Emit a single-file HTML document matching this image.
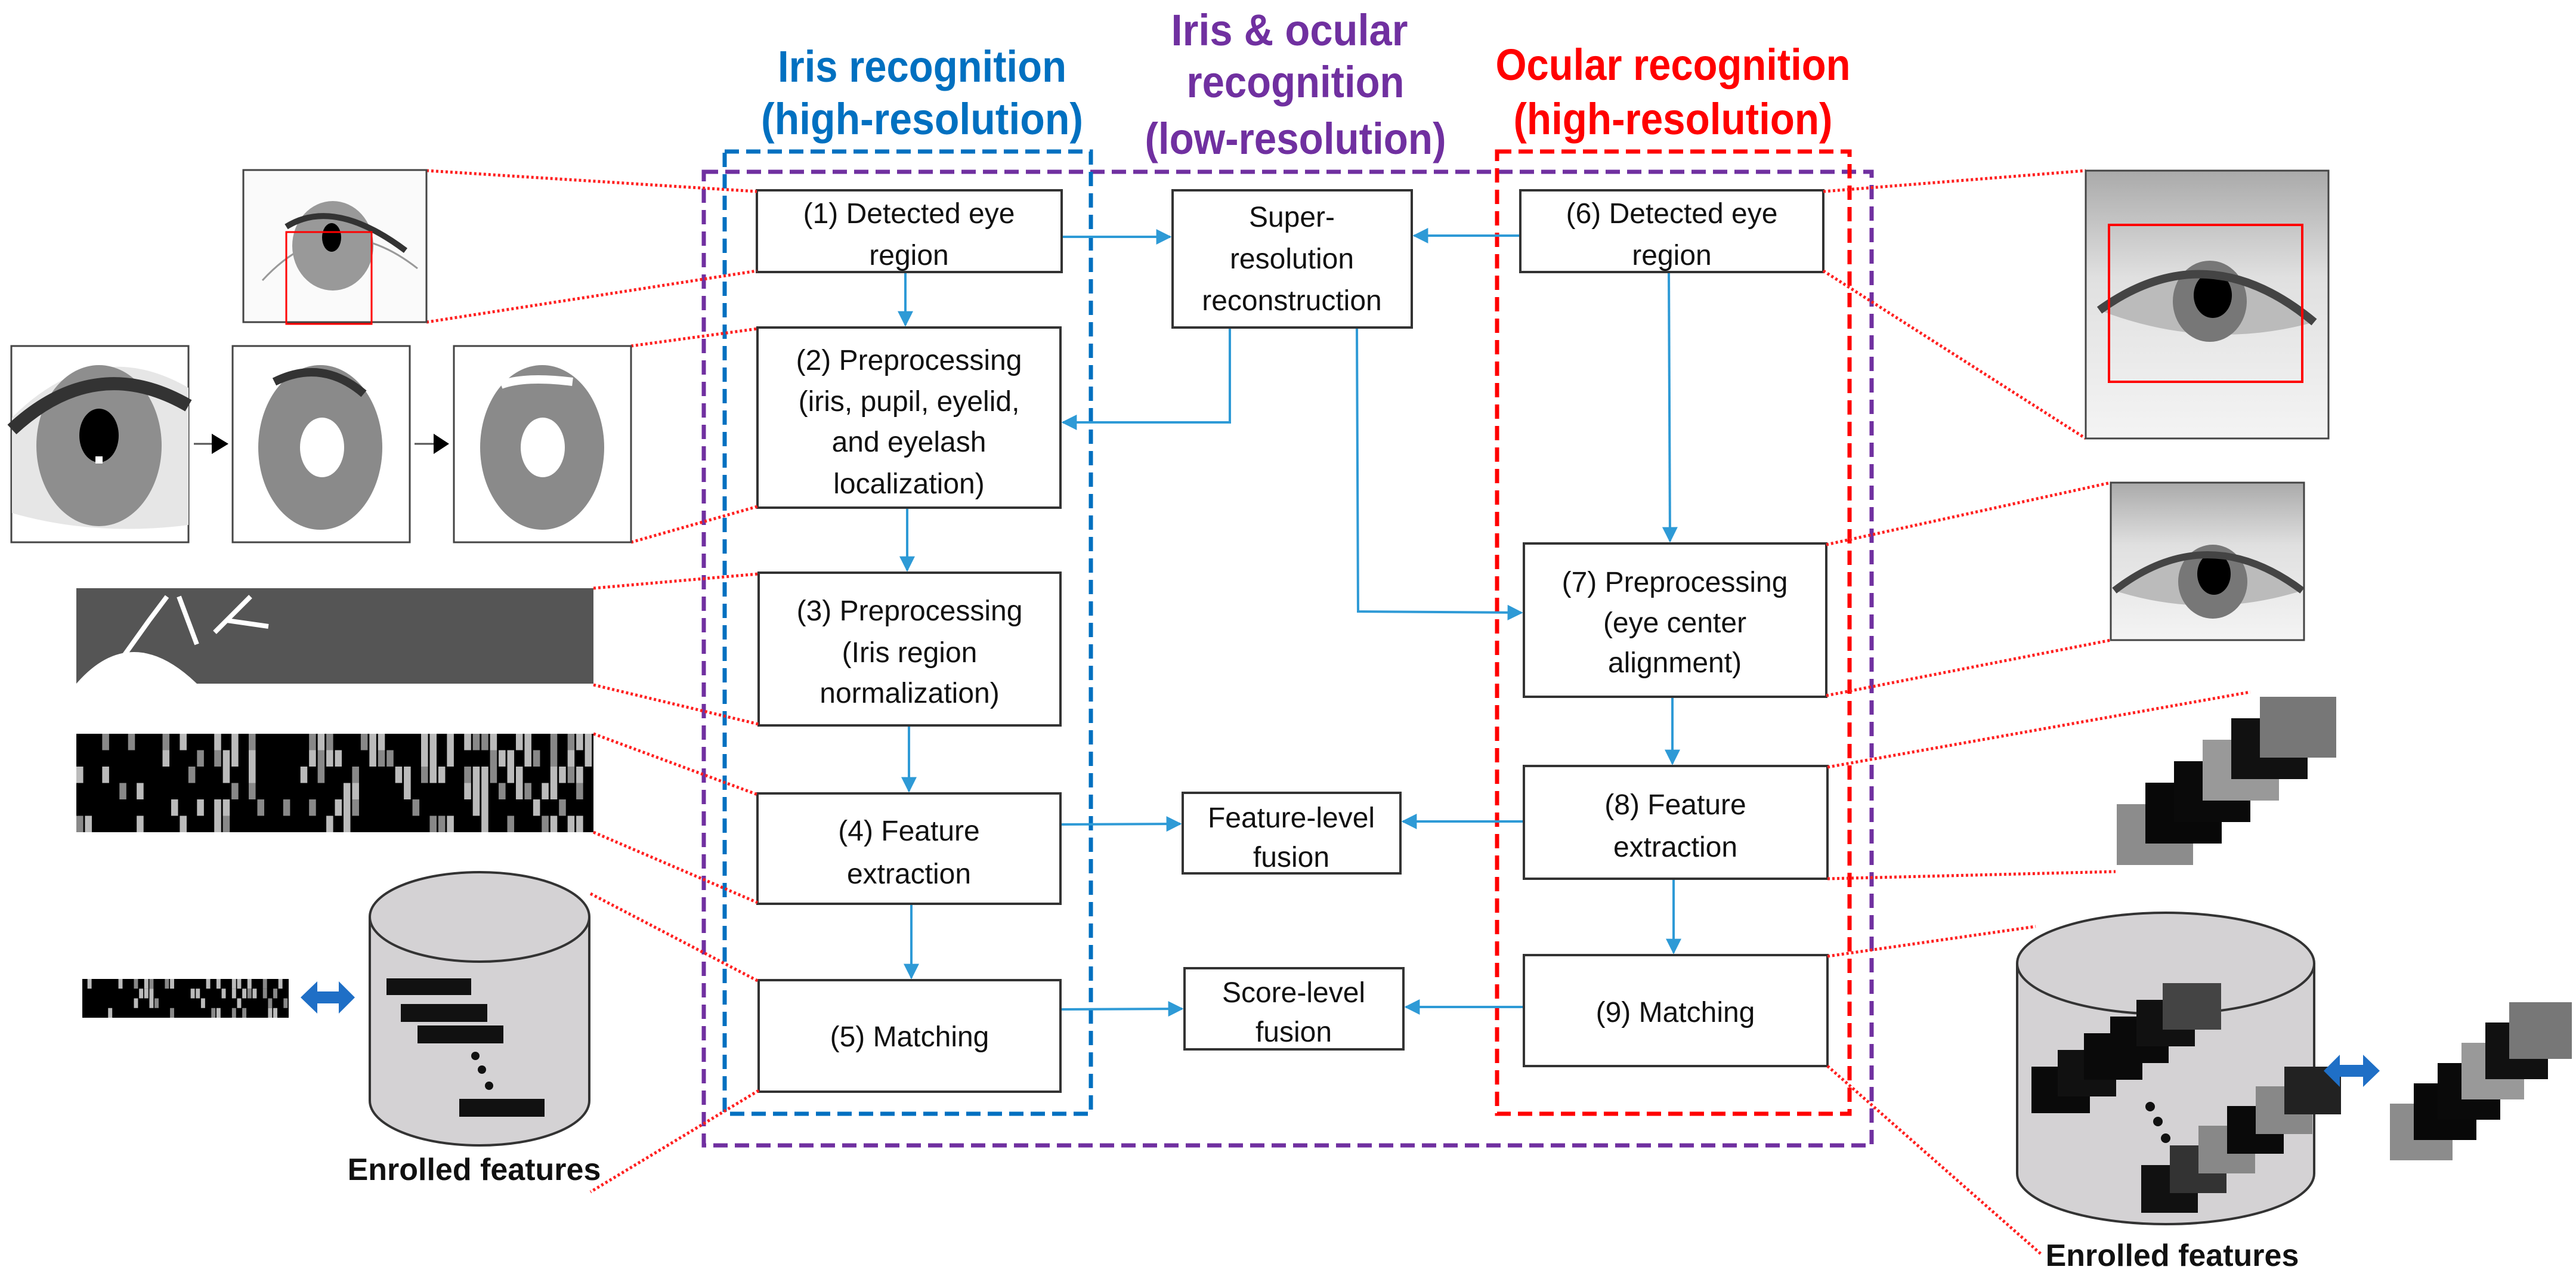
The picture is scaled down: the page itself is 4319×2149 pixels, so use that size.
<!DOCTYPE html>
<html><head><meta charset="utf-8"><style>
html,body{margin:0;padding:0;background:#fff;width:4319px;height:2149px;overflow:hidden}
svg{display:block}
.bt{font-family:"Liberation Sans",sans-serif;font-size:48px;fill:#111;text-anchor:middle}
.tt{font-family:"Liberation Sans Narrow","Liberation Sans",sans-serif;font-size:74px;font-weight:bold;text-anchor:middle}
.ef{font-family:"Liberation Sans",sans-serif;font-size:52px;font-weight:bold;fill:#111;text-anchor:middle}
</style></head><body>
<svg id="s" width="4319" height="2149" viewBox="0 0 4319 2149" xmlns="http://www.w3.org/2000/svg">
<defs>
<marker id="ab" viewBox="0 0 10 10" refX="9" refY="5" markerWidth="26" markerHeight="26" markerUnits="userSpaceOnUse" orient="auto"><path d="M0,0 L10,5 L0,10 z" fill="#2e9ad6"/></marker>
<linearGradient id="skin" x1="0" y1="0" x2="0" y2="1"><stop offset="0" stop-color="#aaa"/><stop offset="0.4" stop-color="#e0e0e0"/><stop offset="1" stop-color="#f4f4f4"/></linearGradient>
</defs>

<!-- titles -->
<text class="tt" x="1546" y="137" fill="#0070c0" textLength="484" lengthAdjust="spacingAndGlyphs">Iris recognition</text>
<text class="tt" x="1546" y="225" fill="#0070c0" textLength="540" lengthAdjust="spacingAndGlyphs">(high-resolution)</text>
<text class="tt" x="2162" y="76" fill="#7030a0" textLength="397" lengthAdjust="spacingAndGlyphs">Iris &amp; ocular</text>
<text class="tt" x="2172" y="163" fill="#7030a0" textLength="365" lengthAdjust="spacingAndGlyphs">recognition</text>
<text class="tt" x="2172" y="258" fill="#7030a0" textLength="505" lengthAdjust="spacingAndGlyphs">(low-resolution)</text>
<text class="tt" x="2805" y="134" fill="#ff0000" textLength="595" lengthAdjust="spacingAndGlyphs">Ocular recognition</text>
<text class="tt" x="2805" y="225" fill="#ff0000" textLength="535" lengthAdjust="spacingAndGlyphs">(high-resolution)</text>

<!-- dashed frames -->
<rect x="1180" y="288" width="1958" height="1632" fill="none" stroke="#7030a0" stroke-width="7" stroke-dasharray="24 12"/>
<rect x="1215" y="254" width="614" height="1613" fill="none" stroke="#0070c0" stroke-width="7" stroke-dasharray="24 12"/>
<rect x="2510" y="254" width="591" height="1613" fill="none" stroke="#ff0000" stroke-width="7" stroke-dasharray="24 12"/>

<!-- connectors -->
<g stroke="#2e9ad6" stroke-width="4" fill="none">
<line x1="1780" y1="397" x2="1962" y2="397" marker-end="url(#ab)"/>
<line x1="2549" y1="395" x2="2371" y2="395" marker-end="url(#ab)"/>
<polyline points="2062,549 2062,708 1782,708" marker-end="url(#ab)"/>
<polyline points="2275,549 2277,1025 2551,1027" marker-end="url(#ab)"/>
<line x1="1518" y1="456" x2="1518" y2="545" marker-end="url(#ab)"/>
<line x1="1521" y1="851" x2="1521" y2="956" marker-end="url(#ab)"/>
<line x1="1524" y1="1216" x2="1524" y2="1326" marker-end="url(#ab)"/>
<line x1="1528" y1="1515" x2="1528" y2="1639" marker-end="url(#ab)"/>
<line x1="2798" y1="456" x2="2800" y2="907" marker-end="url(#ab)"/>
<line x1="2804" y1="1168" x2="2804" y2="1280" marker-end="url(#ab)"/>
<line x1="2806" y1="1473" x2="2806" y2="1597" marker-end="url(#ab)"/>
<line x1="1778" y1="1382" x2="1979" y2="1381" marker-end="url(#ab)"/>
<line x1="2555" y1="1377" x2="2352" y2="1377" marker-end="url(#ab)"/>
<line x1="1778" y1="1692" x2="1982" y2="1691" marker-end="url(#ab)"/>
<line x1="2555" y1="1688" x2="2357" y2="1688" marker-end="url(#ab)"/>
</g>

<!-- boxes -->
<g fill="#fff" stroke="#333" stroke-width="4">
<rect x="1269" y="319" width="511" height="137"/>
<rect x="1966" y="319" width="401" height="230"/>
<rect x="2549" y="319" width="508" height="137"/>
<rect x="1270" y="549" width="508" height="302"/>
<rect x="1272" y="960" width="506" height="256"/>
<rect x="1270" y="1330" width="508" height="185"/>
<rect x="1272" y="1643" width="506" height="187"/>
<rect x="1983" y="1329" width="365" height="135"/>
<rect x="1986" y="1623" width="367" height="136"/>
<rect x="2555" y="911" width="507" height="257"/>
<rect x="2555" y="1284" width="509" height="189"/>
<rect x="2555" y="1601" width="509" height="186"/>
</g>
<text class="bt" x="1524" y="374">(1) Detected eye</text>
<text class="bt" x="1524" y="444">region</text>
<text class="bt" x="2166" y="380">Super-</text>
<text class="bt" x="2166" y="450">resolution</text>
<text class="bt" x="2166" y="520">reconstruction</text>
<text class="bt" x="2803" y="374">(6) Detected eye</text>
<text class="bt" x="2803" y="444">region</text>
<text class="bt" x="1524" y="620">(2) Preprocessing</text>
<text class="bt" x="1524" y="689">(iris, pupil, eyelid,</text>
<text class="bt" x="1524" y="757">and eyelash</text>
<text class="bt" x="1524" y="827">localization)</text>
<text class="bt" x="1525" y="1040">(3) Preprocessing</text>
<text class="bt" x="1525" y="1110">(Iris region</text>
<text class="bt" x="1525" y="1178">normalization)</text>
<text class="bt" x="1524" y="1409">(4) Feature</text>
<text class="bt" x="1524" y="1481">extraction</text>
<text class="bt" x="1525" y="1754">(5) Matching</text>
<text class="bt" x="2165" y="1387">Feature-level</text>
<text class="bt" x="2165" y="1453">fusion</text>
<text class="bt" x="2169" y="1680">Score-level</text>
<text class="bt" x="2169" y="1746">fusion</text>
<text class="bt" x="2808" y="992">(7) Preprocessing</text>
<text class="bt" x="2808" y="1060">(eye center</text>
<text class="bt" x="2808" y="1127">alignment)</text>
<text class="bt" x="2809" y="1365">(8) Feature</text>
<text class="bt" x="2809" y="1436">extraction</text>
<text class="bt" x="2809" y="1713">(9) Matching</text>

<!-- red dotted leader lines -->
<g stroke="#ff2020" stroke-width="5" stroke-dasharray="4 4" fill="none">
<line x1="715" y1="286" x2="1269" y2="321"/>
<line x1="715" y1="540" x2="1269" y2="454"/>
<line x1="1058" y1="580" x2="1270" y2="551"/>
<line x1="1058" y1="909" x2="1270" y2="849"/>
<line x1="995" y1="986" x2="1272" y2="962"/>
<line x1="995" y1="1148" x2="1272" y2="1214"/>
<line x1="995" y1="1230" x2="1270" y2="1332"/>
<line x1="995" y1="1395" x2="1270" y2="1513"/>
<line x1="990" y1="1498" x2="1272" y2="1645"/>
<line x1="1272" y1="1828" x2="990" y2="1998"/>
<line x1="3057" y1="321" x2="3497" y2="286"/>
<line x1="3057" y1="454" x2="3497" y2="735"/>
<line x1="3062" y1="913" x2="3539" y2="809"/>
<line x1="3062" y1="1166" x2="3539" y2="1073"/>
<line x1="3064" y1="1286" x2="3773" y2="1160"/>
<line x1="3064" y1="1473" x2="3547" y2="1461"/>
<line x1="3064" y1="1603" x2="3413" y2="1553"/>
<line x1="3064" y1="1787" x2="3423" y2="2103"/>
</g>

<!-- left small eye -->
<rect x="408" y="285" width="307" height="255" fill="#fafafa" stroke="#444" stroke-width="3"/>
<path d="M440,470 Q560,340 700,450" stroke="#999" stroke-width="3" fill="none"/>
<ellipse cx="558" cy="412" rx="68" ry="75" fill="#999"/>
<ellipse cx="556" cy="398" rx="16" ry="24" fill="#000"/>
<path d="M480,380 Q560,330 680,420" stroke="#333" stroke-width="10" fill="none"/>
<rect x="480" y="389" width="143" height="154" fill="none" stroke="#f00" stroke-width="3"/>

<!-- three eyes -->
<g stroke="#444" stroke-width="3">
<rect x="19" y="580" width="297" height="329" fill="#fff"/>
<rect x="390" y="580" width="297" height="329" fill="#fff"/>
<rect x="761" y="580" width="297" height="329" fill="#fff"/>
</g>
<path d="M20,700 Q160,560 316,650 L316,880 Q160,900 20,860 z" fill="#e6e6e6"/>
<ellipse cx="166" cy="747" rx="105" ry="135" fill="#8e8e8e"/>
<path d="M20,720 Q160,590 316,680" stroke="#333" stroke-width="22" fill="none"/>
<ellipse cx="166" cy="730" rx="33" ry="45" fill="#000"/>
<rect x="160" y="765" width="12" height="12" fill="#fff"/>
<ellipse cx="537" cy="750" rx="104" ry="138" fill="#8a8a8a"/>
<path d="M460,640 Q540,600 610,660" stroke="#333" stroke-width="14" fill="none"/>
<ellipse cx="540" cy="750" rx="37" ry="50" fill="#fff"/>
<ellipse cx="909" cy="750" rx="104" ry="138" fill="#8a8a8a"/>
<path d="M840,645 Q880,630 960,640" stroke="#fff" stroke-width="14" fill="none"/>
<ellipse cx="910" cy="750" rx="37" ry="50" fill="#fff"/>
<g fill="#000"><line x1="325" y1="744" x2="355" y2="744" stroke="#555" stroke-width="3"/><path d="M355,727 L383,744 L355,761z"/>
<line x1="695" y1="744" x2="727" y2="744" stroke="#555" stroke-width="3"/><path d="M727,727 L753,744 L727,761z"/></g>

<!-- normalized strip -->
<rect x="128" y="986" width="867" height="160" fill="#555"/>
<path d="M128,1146 Q220,1040 330,1146 z" fill="#fff"/>
<path d="M200,1110 L250,1040 L280,1000 M300,1000 L330,1080 M360,1060 L420,1000 M380,1040 L450,1050" stroke="#fff" stroke-width="8" fill="none"/>

<g id="bc1"></g>
<g id="bc2"></g>

<!-- left cylinder -->
<path d="M620,1537 L620,1845 A184,75 0 0 0 988,1845 L988,1537" fill="#d4d2d4" stroke="#333" stroke-width="4"/>
<ellipse cx="804" cy="1537" rx="184" ry="75" fill="#d4d2d4" stroke="#333" stroke-width="4"/>
<g fill="#111">
<rect x="648" y="1640" width="142" height="28"/>
<rect x="672" y="1683" width="145" height="30"/>
<rect x="700" y="1719" width="144" height="30"/>
<rect x="770" y="1842" width="143" height="30"/>
<circle cx="797" cy="1770" r="7"/><circle cx="808" cy="1793" r="7"/><circle cx="820" cy="1820" r="7"/>
</g>
<text class="ef" x="795" y="1978">Enrolled features</text>
<path d="M504,1672 L532,1645 L532,1662 L568,1662 L568,1645 L595,1672 L568,1699 L568,1682 L532,1682 L532,1699 z" fill="#1f6fc6"/>

<!-- right big eye -->
<rect x="3497" y="286" width="407" height="449" fill="url(#skin)" stroke="#444" stroke-width="3"/>
<path d="M3520,520 Q3700,390 3880,540 Q3700,590 3520,520 z" fill="#bbb"/>
<ellipse cx="3705" cy="505" rx="62" ry="68" fill="#777"/>
<ellipse cx="3710" cy="495" rx="32" ry="38" fill="#000"/>
<path d="M3520,520 Q3700,390 3880,540" stroke="#444" stroke-width="14" fill="none"/>
<rect x="3536" y="377" width="324" height="263" fill="none" stroke="#f00" stroke-width="4"/>
<!-- eye2 -->
<rect x="3539" y="809" width="324" height="264" fill="url(#skin)" stroke="#444" stroke-width="3"/>
<path d="M3545,990 Q3700,870 3860,990 Q3700,1040 3545,990 z" fill="#bbb"/>
<ellipse cx="3710" cy="975" rx="58" ry="62" fill="#777"/>
<ellipse cx="3712" cy="962" rx="28" ry="35" fill="#000"/>
<path d="M3545,990 Q3700,870 3860,990" stroke="#444" stroke-width="12" fill="none"/>

<!-- right cylinder -->
<path d="M3382,1615 L3382,1967 A249,85 0 0 0 3880,1967 L3880,1615" fill="#d4d2d4" stroke="#333" stroke-width="4"/>
<ellipse cx="3631" cy="1615" rx="249" ry="85" fill="#d4d2d4" stroke="#333" stroke-width="4"/>
<g id="st"></g>
<g fill="#111"><circle cx="3605" cy="1855" r="8"/><circle cx="3618" cy="1880" r="8"/><circle cx="3631" cy="1908" r="8"/></g>
<text class="ef" x="3642" y="2122">Enrolled features</text>
<path d="M3896,1795 L3923,1768 L3923,1785 L3962,1785 L3962,1768 L3990,1795 L3962,1822 L3962,1805 L3923,1805 L3923,1822 z" fill="#1f6fc6"/>
</svg>
<script>
var NS="http://www.w3.org/2000/svg";
function R(g,x,y,w,h,f){var r=document.createElementNS(NS,"rect");r.setAttribute("x",x);r.setAttribute("y",y);r.setAttribute("width",w);r.setAttribute("height",h);r.setAttribute("fill",f);g.appendChild(r);}
var seed=7;function rnd(){seed=(seed*9301+49297)%233280;return seed/233280;}
function barcode(g,x,y,w,h,cols,rows,bias){R(g,x,y,w,h,"#000");var cw=w/cols,rh=h/rows;for(var i=0;i<cols;i++)for(var j=0;j<rows;j++){var p=bias*(0.3+0.9*i/cols)*(1-0.5*j/rows);if(rnd()<p)R(g,x+i*cw,y+j*rh,cw*0.8,rh,rnd()<0.5?"#bbb":"#888");}}
barcode(document.getElementById("bc1"),128,1230,867,165,60,6,0.55);
barcode(document.getElementById("bc2"),138,1641,346,65,40,4,0.5);
var st=document.getElementById("st");
function stack(x0,y0,dx,dy,w,h,n,cols){for(var k=0;k<n;k++){R(st,x0+k*dx,y0+k*dy,w,h,cols[k%cols.length]);}}
stack(3549,1348,48,-36,128,102,6,["#8c8c8c","#080808","#0a0a0a","#999","#111","#777"]);
stack(4007,1850,40,-34,105,95,6,["#8c8c8c","#080808","#0a0a0a","#999","#111","#777"]);
stack(3406,1788,44,-28,98,78,6,["#0a0a0a","#111","#0a0a0a","#0a0a0a","#111","#444"]);
stack(3590,1953,48,-33,95,80,6,["#111","#333","#888","#0a0a0a","#888","#222"]);
</script>
</body></html>
